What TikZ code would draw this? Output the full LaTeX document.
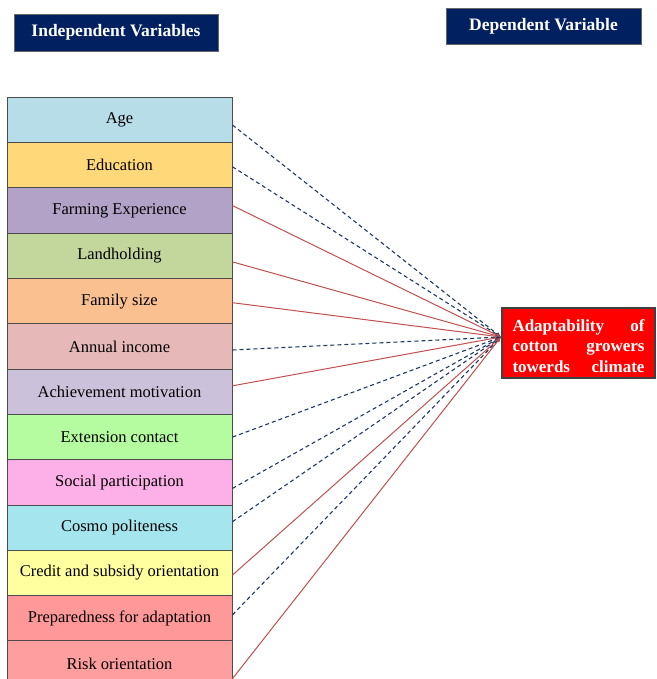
\documentclass[tikz,border=0pt]{standalone}
\usepackage{fontspec}
\setmainfont{Liberation Serif}
\usetikzlibrary{arrows.meta}

\definecolor{headblue}{HTML}{002060}
\definecolor{linkred}{HTML}{C0504D}
\definecolor{linknavy}{HTML}{1F3864}

\begin{document}
\begin{tikzpicture}[x=1pt,y=-1pt,
  var/.style={draw=black!70,line width=1pt,minimum width=225pt,minimum height=45.3pt,inner sep=0pt,font=\fontsize{16.5}{19}\selectfont},
  head/.style={draw=black!60,fill=headblue,text=white,inner sep=0pt,font=\fontsize{17.5}{20}\selectfont\bfseries},
  poslink/.style={linkred,line width=1pt,-{Latex[length=5pt,width=4pt]}},
  neglink/.style={linknavy,line width=1.1pt,dash pattern=on 4pt off 3pt,-{Latex[length=5pt,width=4pt]}}]
\useasboundingbox (0,0) rectangle (656,679);

\node[head,minimum width=204pt,minimum height=37pt] (indep) at (116,32.5) {Independent Variables};
\node[head,minimum width=195pt,minimum height=36pt] (deph) at (543.5,26) {Dependent Variable};

\node[var,fill={rgb,255:red,183;green,221;blue,232}] (age) at (119.5,120) {Age};
\node[var,fill={rgb,255:red,255;green,216;blue,122}] (edu) at (119.5,165.3) {Education};
\node[var,fill={rgb,255:red,179;green,162;blue,199}] (farm) at (119.5,210.6) {Farming Experience};
\node[var,fill={rgb,255:red,195;green,214;blue,155}] (land) at (119.5,255.9) {Landholding};
\node[var,fill={rgb,255:red,250;green,192;blue,144}] (fam) at (119.5,301.2) {Family size};
\node[var,fill={rgb,255:red,230;green,185;blue,184}] (inc) at (119.5,346.5) {Annual income};
\node[var,fill={rgb,255:red,204;green,193;blue,218}] (ach) at (119.5,391.8) {Achievement motivation};
\node[var,fill={rgb,255:red,181;green,251;blue,159}] (ext) at (119.5,437.1) {Extension contact};
\node[var,fill={rgb,255:red,253;green,176;blue,232}] (soc) at (119.5,482.4) {Social participation};
\node[var,fill={rgb,255:red,165;green,229;blue,238}] (cos) at (119.5,527.7) {Cosmo politeness};
\node[var,fill={rgb,255:red,255;green,255;blue,160}] (cre) at (119.5,573) {Credit and subsidy orientation};
\node[var,fill={rgb,255:red,255;green,153;blue,153}] (pre) at (119.5,618.3) {Preparedness for adaptation};
\node[var,fill={rgb,255:red,255;green,158;blue,158}] (risk) at (119.5,663.6) {Risk orientation};

\node[draw=black!75,line width=2pt,fill=red,text=white,minimum width=153pt,minimum height=70pt,inner ysep=0pt,
  text width=132pt,align=left,font=\fontsize{17}{20.5}\selectfont\bfseries] (dep) at (578.5,343)
  {\rule{0pt}{18pt}Adaptability\hfill of\\cotton\hfill growers\\towerds\hfill climate};

\coordinate (tip) at ([yshift=6pt]dep.west);

\draw[neglink] ([yshift=-5pt]age.east) -- (tip);
\draw[neglink] ([yshift=-1.5pt]edu.east) -- (tip);
\draw[poslink] ([yshift=5pt]farm.east) -- (tip);
\draw[poslink] ([yshift=-6pt]land.east) -- (tip);
\draw[poslink] ([yshift=-1.5pt]fam.east) -- (tip);
\draw[neglink] ([yshift=-3.5pt]inc.east) -- (tip);
\draw[poslink] ([yshift=6pt]ach.east) -- (tip);
\draw[neglink] (ext.east) -- (tip);
\draw[neglink] ([yshift=-6pt]soc.east) -- (tip);
\draw[neglink] ([yshift=6pt]cos.east) -- (tip);
\draw[poslink] ([yshift=-2pt]cre.east) -- (tip);
\draw[neglink] ([yshift=3.5pt]pre.east) -- (tip);
\draw[poslink] ([yshift=-15pt]risk.east) -- (tip);
\end{tikzpicture}
\end{document}
